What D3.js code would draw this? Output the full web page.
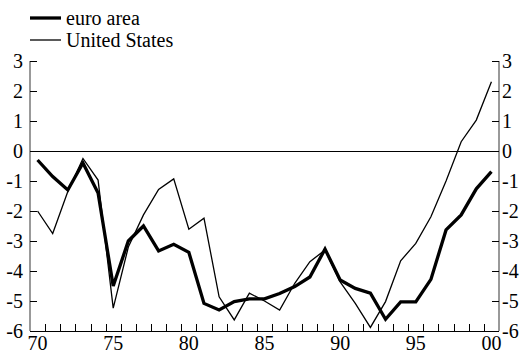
<!DOCTYPE html>
<html><head><meta charset="utf-8">
<script src="https://cdn.jsdelivr.net/npm/d3@7/dist/d3.min.js"></script>
<style>html,body{margin:0;padding:0;background:#fff;}svg{display:block;}</style>
</head><body>
<svg id="c" width="520" height="353"></svg>
<script>
const years = d3.range(1970, 2001);
const euroArea = [-0.3,-0.85,-1.3,-0.4,-1.4,-4.5,-3.0,-2.5,-3.33,-3.11,-3.38,-5.08,-5.3,-5.02,-4.93,-4.93,-4.75,-4.52,-4.2,-3.27,-4.3,-4.58,-4.74,-5.61,-5.03,-5.03,-4.28,-2.63,-2.13,-1.26,-0.69];
const unitedStates = [-2.0,-2.75,-1.35,-0.25,-0.97,-5.24,-3.2,-2.13,-1.28,-0.93,-2.61,-2.24,-4.86,-5.63,-4.74,-5.0,-5.3,-4.41,-3.69,-3.3,-4.36,-5.08,-5.88,-5.02,-3.66,-3.08,-2.19,-1.0,0.31,1.03,2.31];
const yTicks = [3,2,1,0,-1,-2,-3,-4,-5,-6];
const xLabelYears = [1970,1975,1980,1985,1990,1995,2000];
const xLabels = ["70","75","80","85","90","95","00"];
const seriesNames = ["euro area","United States"];

const svg = d3.select("#c");
const FONT = "Liberation Serif, Times New Roman, Times, DejaVu Serif, serif";
const L = 30, R = 499, T = 61, B = 331;

const xb = d3.scaleBand().domain(years).range([L, R]).padding(0);
const xc = d => xb(d) + xb.bandwidth()/2;
const y = d3.scaleLinear().domain([-6, 3]).range([B, T]);

function txt(sel) { return sel.style("font-family", FONT).style("font-size", "20px").attr("fill", "#000"); }

// axes lines
svg.append("line").attr("x1",L).attr("x2",L).attr("y1",T).attr("y2",B).attr("stroke","#555").attr("stroke-width",1.2);
svg.append("line").attr("x1",R).attr("x2",R).attr("y1",T).attr("y2",B).attr("stroke","#555").attr("stroke-width",1.2);
svg.append("line").attr("x1",L).attr("x2",R).attr("y1",B+0.5).attr("y2",B+0.5).attr("stroke","#000").attr("stroke-width",1);

// x ticks at band boundaries
const bounds = years.slice(1).map(yv => xb(yv));
svg.append("g").selectAll("line").data(bounds).join("line")
  .attr("x1", d => Math.round(d)+0.5).attr("x2", d => Math.round(d)+0.5)
  .attr("y1", B).attr("y2", B-7).attr("stroke","#000").attr("stroke-width",1);

// y ticks
svg.append("g").selectAll("line").data(yTicks).join("line")
  .attr("x1", L).attr("x2", L+7).attr("y1", d => Math.round(y(d))+0.5).attr("y2", d => Math.round(y(d))+0.5)
  .attr("stroke","#000");
svg.append("g").selectAll("line").data(yTicks).join("line")
  .attr("x1", R-7).attr("x2", R).attr("y1", d => Math.round(y(d))+0.5).attr("y2", d => Math.round(y(d))+0.5)
  .attr("stroke","#000");

// zero line
svg.append("line").attr("x1",L).attr("x2",R).attr("y1",Math.round(y(0))+0.5).attr("y2",Math.round(y(0))+0.5).attr("stroke","#000").attr("stroke-width",1);

// y labels
txt(svg.append("g").selectAll("text").data(yTicks).join("text")
  .attr("x", L-7).attr("y", d => y(d)).attr("dy","0.33em").attr("text-anchor","end")
  .text(d => String(d)));
txt(svg.append("g").selectAll("text").data(yTicks).join("text")
  .attr("x", R+3).attr("y", d => y(d)).attr("dy","0.33em").attr("text-anchor","start")
  .text(d => String(d)));

// x labels
txt(svg.append("g").selectAll("text").data(xLabelYears).join("text")
  .attr("x", d => xc(d)).attr("y", 350).attr("text-anchor","middle")
  .text((d,i) => xLabels[i]));

// lines
const line = d3.line().x((d,i) => xc(years[i])).y(d => y(d));
svg.append("path").datum(unitedStates).attr("d", line).attr("fill","none").attr("stroke","#000").attr("stroke-width",1.3).attr("stroke-linejoin","miter");
svg.append("path").datum(euroArea).attr("d", line).attr("fill","none").attr("stroke","#000").attr("stroke-width",3.3).attr("stroke-linejoin","miter");

// legend
const lg = svg.append("g");
[[3.3,18],[1.3,40]].forEach((p,i) => {
  lg.append("line").attr("x1",30).attr("x2",61).attr("y1",p[1]).attr("y2",p[1]).attr("stroke","#000").attr("stroke-width",p[0]);
  txt(lg.append("text").attr("x",66).attr("y",p[1]).attr("dy","0.33em").text(seriesNames[i]));
});
</script>
</body></html>
